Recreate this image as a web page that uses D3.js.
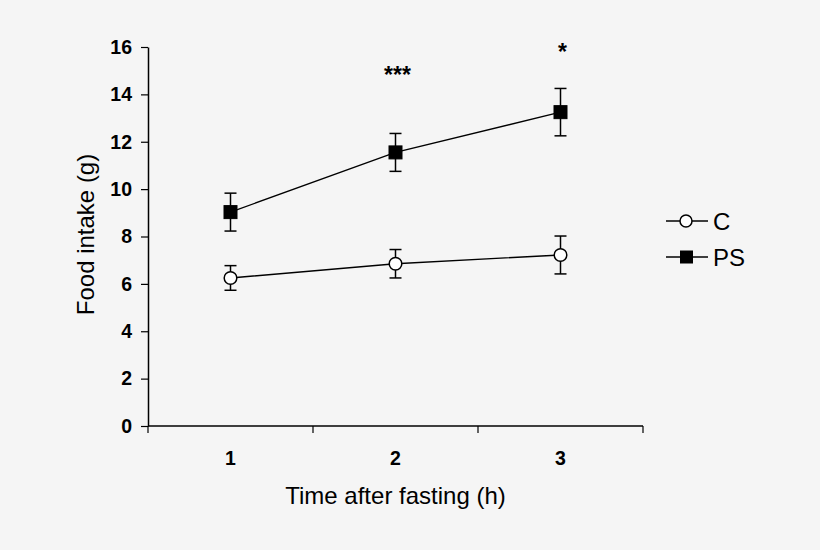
<!DOCTYPE html>
<html>
<head>
<meta charset="utf-8">
<script src="https://cdn.jsdelivr.net/npm/d3@7"></script>
<style>
  body { margin: 0; background: #f5f5f5; }
  svg { display: block; font-family: "Liberation Sans", Arial, sans-serif; }
</style>
</head>
<body>
<div id="chart"></div>
<script>
// values
const hours = ["1", "2", "3"];
const cMean = [6.25, 6.85, 7.22];
const cErr = [0.52, 0.6, 0.8];
const psMean = [9.03, 11.55, 13.25];
const psErr = [0.8, 0.8, 1.0];
const yTicks = [0, 2, 4, 6, 8, 10, 12, 14, 16];
const stars = ["", "***", "*"];
const starY = [null, 14.5, 15.45];

const width = 820, height = 550;
const margin = { top: 47, right: 177, bottom: 124, left: 148 };

const svg = d3.select("#chart").append("svg")
    .attr("width", width)
    .attr("height", height);

const g = svg.append("g")
    .attr("transform", "translate(" + margin.left + "," + margin.top + ")");

const w = width - margin.left - margin.right;
const h = height - margin.top - margin.bottom;

const x = d3.scaleBand().domain(hours).range([0, w]);
const y = d3.scaleLinear().domain([0, 16]).range([h, 0]);
const cx = d => x(d) + x.bandwidth() / 2;

// y axis
const yAxis = g.append("g")
    .call(d3.axisLeft(y).tickValues(yTicks).tickSize(7).tickPadding(9).tickSizeOuter(0));
yAxis.select(".domain").attr("stroke", "#000").attr("stroke-width", 1.5);
yAxis.selectAll(".tick line").attr("stroke", "#000").attr("stroke-width", 1.2);
yAxis.selectAll(".tick text")
    .style("font-size", "19.5px").style("font-weight", "bold").attr("fill", "#000");

// x axis: ticks at band edges, labels at centres
const xAxis = g.append("g").attr("transform", "translate(0," + h + ")");
xAxis.append("line").attr("x1", 0).attr("x2", w).attr("y1", 0).attr("y2", 0)
    .attr("stroke", "#000").attr("stroke-width", 1.5);
const edges = hours.map(d => x(d)).concat([w]);
xAxis.selectAll(".edge").data(edges).enter().append("line")
    .attr("x1", d => d).attr("x2", d => d).attr("y1", 0).attr("y2", 7)
    .attr("stroke", "#000").attr("stroke-width", 1.2);
xAxis.selectAll(".lab").data(hours).enter().append("text")
    .attr("x", d => cx(d)).attr("y", 39)
    .attr("text-anchor", "middle")
    .style("font-size", "19.5px").style("font-weight", "bold")
    .text(d => d);

// axis titles
g.append("text")
    .attr("transform", "translate(" + (-54) + "," + (h / 2 - 2) + ") rotate(-90)")
    .attr("text-anchor", "middle")
    .style("font-size", "24px")
    .text("Food intake (g)");

g.append("text")
    .attr("x", w / 2).attr("y", h + 78)
    .attr("text-anchor", "middle")
    .style("font-size", "24px")
    .text("Time after fasting (h)");

// series
const series = [
  { name: "C", mean: cMean, err: cErr, shape: "circle", fill: "#fff" },
  { name: "PS", mean: psMean, err: psErr, shape: "square", fill: "#000" }
];

const line = d3.line().x(d => cx(d.hour)).y(d => y(d.value));

series.forEach(s => {
  const pts = hours.map((hr, i) => ({ hour: hr, value: s.mean[i], err: s.err[i] }));

  g.append("path").datum(pts)
      .attr("d", line).attr("fill", "none")
      .attr("stroke", "#000").attr("stroke-width", 1.4);

  const eb = g.append("g");
  eb.selectAll(".v").data(pts).enter().append("line")
      .attr("x1", d => cx(d.hour)).attr("x2", d => cx(d.hour))
      .attr("y1", d => y(d.value + d.err)).attr("y2", d => y(d.value - d.err))
      .attr("stroke", "#000").attr("stroke-width", 1.5);
  [1, -1].forEach(sign => {
    eb.selectAll(".cap" + sign).data(pts).enter().append("line")
        .attr("x1", d => cx(d.hour) - 6).attr("x2", d => cx(d.hour) + 6)
        .attr("y1", d => y(d.value + sign * d.err)).attr("y2", d => y(d.value + sign * d.err))
        .attr("stroke", "#000").attr("stroke-width", 1.5);
  });

  if (s.shape === "circle") {
    g.selectAll(".c" + s.name).data(pts).enter().append("circle")
        .attr("cx", d => cx(d.hour)).attr("cy", d => y(d.value)).attr("r", 6.3)
        .attr("fill", s.fill).attr("stroke", "#000").attr("stroke-width", 1.5);
  } else {
    g.selectAll(".s" + s.name).data(pts).enter().append("rect")
        .attr("x", d => cx(d.hour) - 6.5).attr("y", d => y(d.value) - 6.5)
        .attr("width", 13).attr("height", 13)
        .attr("fill", s.fill).attr("stroke", "#000").attr("stroke-width", 1);
  }
});

// significance stars
g.selectAll(".star").data(hours.filter((d, i) => stars[i] !== "")).enter().append("text")
    .attr("x", d => cx(d) + 2)
    .attr("y", d => y(starY[hours.indexOf(d)]))
    .attr("text-anchor", "middle")
    .style("font-size", "23px").style("font-weight", "bold")
    .text(d => stars[hours.indexOf(d)]);

// legend
const legend = svg.append("g").attr("transform", "translate(666,221)");
series.forEach((s, i) => {
  const row = legend.append("g").attr("transform", "translate(0," + (i * 36) + ")");
  row.append("line").attr("x1", 0).attr("x2", 42).attr("y1", 0).attr("y2", 0)
      .attr("stroke", "#000").attr("stroke-width", 1.5);
  if (s.shape === "circle") {
    row.append("circle").attr("cx", 20).attr("cy", 0).attr("r", 6)
        .attr("fill", s.fill).attr("stroke", "#000").attr("stroke-width", 1.5);
  } else {
    row.append("rect").attr("x", 14).attr("y", -6.5).attr("width", 13).attr("height", 13)
        .attr("fill", s.fill);
  }
  row.append("text").attr("x", 47).attr("y", 9)
      .style("font-size", "24px")
      .text(s.name);
});
</script>
</body>
</html>
